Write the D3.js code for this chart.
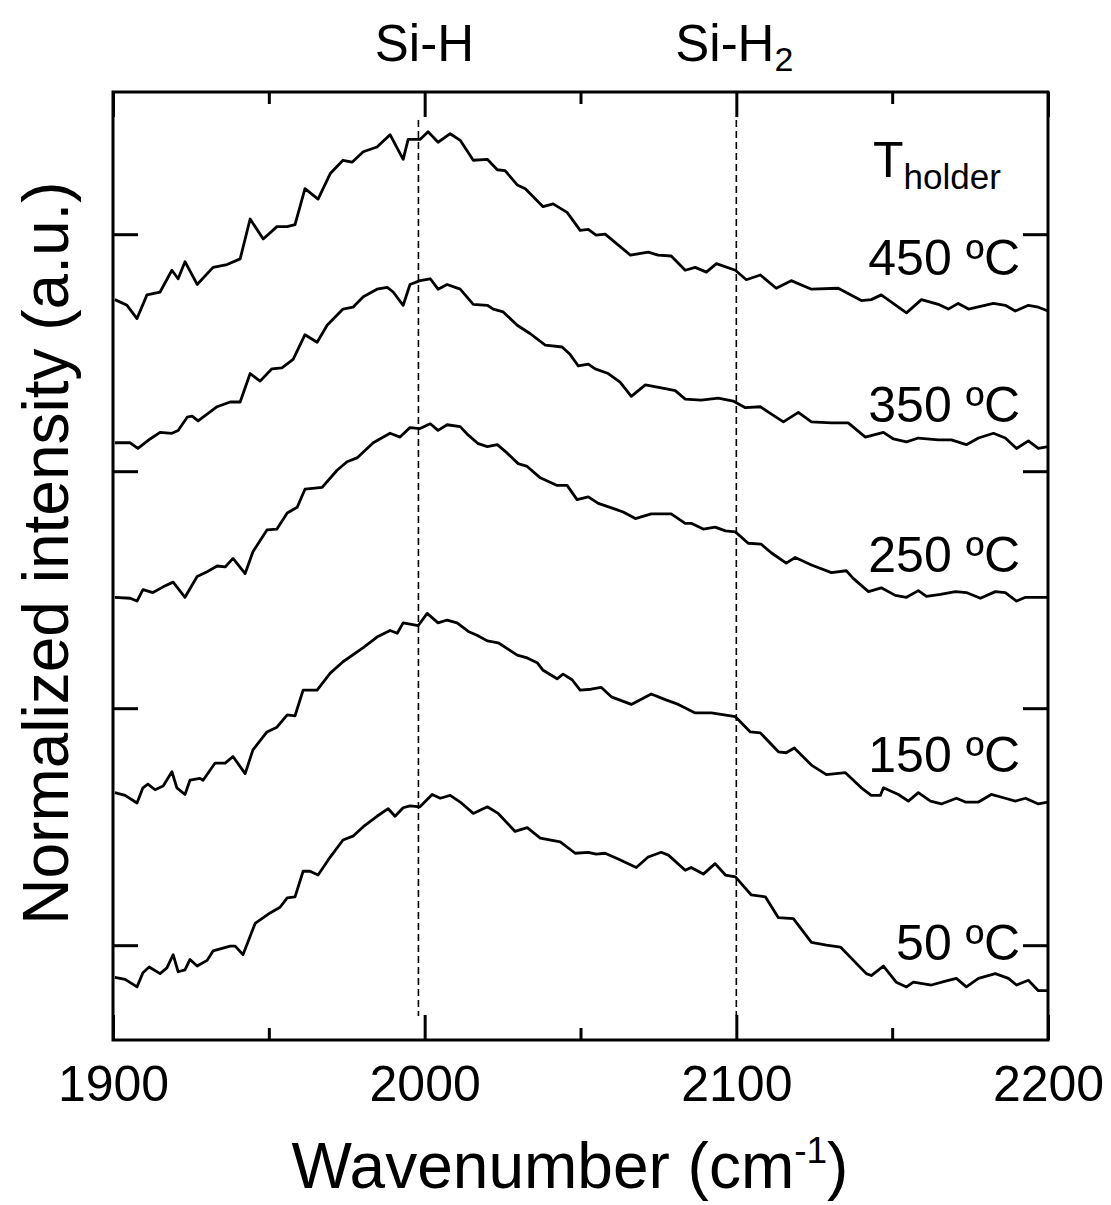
<!DOCTYPE html>
<html>
<head>
<meta charset="utf-8">
<script src="https://cdn.jsdelivr.net/npm/d3@7"></script>
<style>
  body { margin: 0; background: #fff; }
  text { font-family: "Liberation Sans", Arial, sans-serif; fill: #000; }
</style>
</head>
<body>
<div id="chart"></div>
<script>
// spectra: [wavenumber (cm-1), intensity (a.u., offset)]
var t50 = [[1900.6,6.6],[1903.9,6.4],[1907.7,5.6],[1909.6,7.1],[1911.6,7.7],[1915.1,7.0],[1917.3,7.6],[1919.3,9.0],[1920.9,7.2],[1923.1,7.4],[1924.7,8.5],[1927.0,7.8],[1930.2,8.4],[1932.1,9.4],[1937.6,9.9],[1939.2,9.9],[1941.7,9.0],[1945.6,12.3],[1950.4,13.4],[1953.6,14.0],[1955.9,15.0],[1958.4,15.1],[1961.0,17.8],[1963.2,17.8],[1965.8,17.4],[1969.7,19.3],[1973.8,21.1],[1977.0,21.5],[1980.3,22.5],[1984.7,23.6],[1988.3,24.4],[1990.5,23.6],[1993.1,24.5],[1995.3,24.7],[1998.5,24.6],[2002.4,25.9],[2005.0,25.5],[2008.2,25.8],[2011.4,25.1],[2015.6,23.9],[2020.1,24.6],[2023.6,23.9],[2029.0,22.0],[2032.9,22.4],[2037.1,21.3],[2043.5,20.9],[2048.3,19.7],[2052.5,19.8],[2055.0,19.6],[2057.9,19.7],[2062.1,19.1],[2067.9,18.2],[2071.7,19.3],[2075.9,19.8],[2078.2,19.5],[2083.6,17.9],[2085.5,18.2],[2089.4,17.5],[2093.2,18.6],[2096.5,17.4],[2099.7,17.2],[2104.8,15.3],[2109.3,15.1],[2113.5,12.9],[2118.3,12.8],[2124.1,10.3],[2128.9,10.0],[2133.4,9.8],[2141.7,7.0],[2143.3,6.8],[2147.2,7.8],[2151.3,6.1],[2154.6,5.6],[2156.8,6.1],[2162.6,5.8],[2167.1,6.2],[2170.6,6.5],[2173.8,5.6],[2177.7,6.5],[2183.1,7.0],[2187.3,6.5],[2189.9,5.8],[2193.7,6.3],[2196.9,5.2],[2200,5.2]];

var t150 = [[1900.6,26.1],[1903.9,25.8],[1907.7,25.0],[1909.6,26.6],[1911.2,27.0],[1913.5,26.4],[1916.1,26.8],[1918.9,28.3],[1920.5,26.6],[1923.1,25.9],[1924.7,27.4],[1927.9,27.6],[1928.9,27.4],[1932.7,29.2],[1936.0,29.2],[1938.5,29.9],[1942.4,28.1],[1944.9,30.6],[1949.4,32.5],[1952.6,33.0],[1955.9,34.3],[1958.4,34.2],[1961.0,36.9],[1965.5,36.9],[1969.7,38.7],[1973.8,39.9],[1980.3,41.4],[1984.7,42.5],[1988.9,43.2],[1991.2,42.9],[1993.1,44.0],[1997.9,43.7],[2000.8,45.0],[2004.3,44.0],[2007.2,44.3],[2010.4,44.0],[2014.0,43.1],[2016.8,42.7],[2020.1,42.1],[2023.6,41.9],[2029.7,40.6],[2032.9,40.3],[2036.1,39.8],[2038.0,39.0],[2042.5,38.1],[2044.4,38.6],[2047.3,38.0],[2049.9,36.9],[2053.4,37.0],[2056.6,37.2],[2059.9,36.2],[2066.3,35.4],[2072.7,36.5],[2077.2,35.9],[2081.4,35.4],[2086.8,34.5],[2092.0,34.5],[2099.7,34.1],[2104.5,32.5],[2107.7,32.4],[2113.5,30.4],[2116.0,30.3],[2118.6,30.8],[2124.1,29.0],[2128.9,28.0],[2135.0,28.2],[2140.1,26.6],[2143.3,25.8],[2146.2,25.8],[2147.2,26.6],[2152.0,25.9],[2155.2,25.2],[2158.4,26.1],[2162.3,25.2],[2165.8,24.9],[2170.6,25.5],[2173.5,25.1],[2177.7,25.1],[2181.8,25.9],[2186.3,25.5],[2189.5,25.2],[2192.8,25.5],[2196.9,24.9],[2200,25.1]];

var t250 = [[1900.6,46.7],[1905.5,46.6],[1907.7,46.3],[1909.6,47.5],[1912.8,47.2],[1916.1,47.8],[1919.3,48.3],[1923.1,46.7],[1927.0,48.9],[1930.2,49.4],[1933.4,50.0],[1936.0,49.9],[1938.5,50.8],[1942.4,49.2],[1944.9,51.5],[1949.4,53.8],[1952.6,53.9],[1955.9,55.6],[1959.1,56.2],[1961.6,58.1],[1967.1,58.3],[1971.9,60.1],[1975.1,61.0],[1978.3,61.4],[1983.5,63.0],[1988.9,64.0],[1992.1,63.6],[1995.3,64.6],[1998.5,64.5],[2001.8,65.0],[2004.3,64.3],[2007.2,64.9],[2011.4,64.7],[2014.0,63.8],[2017.2,62.9],[2020.1,62.6],[2023.3,62.8],[2026.5,61.9],[2030.0,60.8],[2032.9,60.5],[2037.1,59.3],[2042.5,58.5],[2045.7,58.5],[2048.9,57.0],[2052.5,57.3],[2055.7,56.6],[2061.1,56.0],[2063.7,55.7],[2067.6,55.0],[2072.7,55.5],[2079.1,55.5],[2083.6,54.5],[2085.5,54.5],[2089.4,53.9],[2093.2,54.1],[2096.5,53.7],[2099.7,53.6],[2103.8,52.4],[2108.0,52.3],[2111.2,51.4],[2116.0,50.3],[2118.9,50.9],[2124.1,50.1],[2130.5,49.3],[2135.3,49.5],[2137.5,48.7],[2142.4,47.3],[2146.5,47.7],[2151.0,46.9],[2154.6,46.7],[2158.4,47.4],[2161.0,46.8],[2165.5,47.0],[2170.3,47.3],[2173.8,47.2],[2178.3,46.6],[2183.1,47.3],[2186.3,47.2],[2189.9,46.3],[2192.8,46.7],[2200,46.7]];

var t350 = [[1900.6,63.0],[1905.5,63.0],[1908.0,62.4],[1911.9,63.4],[1915.1,64.1],[1918.9,64.0],[1920.9,64.3],[1923.8,65.7],[1925.4,65.8],[1927.3,65.3],[1933.4,66.8],[1937.6,67.3],[1940.8,67.3],[1944.0,70.3],[1947.2,69.5],[1951.0,70.8],[1954.2,70.9],[1957.8,71.8],[1961.6,74.4],[1965.5,73.6],[1968.7,75.4],[1973.8,77.1],[1977.0,77.3],[1980.3,78.4],[1984.7,79.2],[1988.0,79.4],[1989.9,78.9],[1993.1,77.5],[1995.3,79.7],[1998.5,80.1],[2001.8,80.3],[2004.3,79.2],[2007.2,79.7],[2011.4,79.2],[2015.6,77.6],[2020.1,77.5],[2022.0,77.1],[2025.2,76.8],[2029.7,75.4],[2033.9,74.5],[2038.7,73.3],[2044.1,73.1],[2046.7,72.3],[2049.3,71.1],[2052.5,71.3],[2054.7,70.8],[2058.9,70.3],[2062.7,69.4],[2066.3,67.9],[2070.8,69.1],[2077.2,68.7],[2080.4,68.5],[2083.6,67.6],[2088.7,67.5],[2094.2,67.7],[2099.0,67.4],[2102.9,66.7],[2107.7,66.8],[2110.9,66.1],[2115.1,65.2],[2119.9,66.2],[2124.1,65.2],[2130.5,65.1],[2135.9,65.1],[2141.4,63.6],[2147.2,64.1],[2150.4,63.4],[2154.6,63.1],[2158.4,63.5],[2164.8,63.3],[2169.0,63.3],[2173.8,62.8],[2177.7,63.5],[2182.5,64.0],[2186.3,63.5],[2189.9,62.4],[2193.7,63.2],[2196.9,62.4],[2200,62.6]];

var t450 = [[1900.6,78.1],[1904.5,77.5],[1907.7,76.1],[1910.9,78.6],[1915.1,78.9],[1918.9,81.2],[1920.9,80.3],[1923.1,82.1],[1927.0,79.7],[1932.1,81.5],[1936.6,81.8],[1940.8,82.4],[1944.0,86.6],[1948.2,84.5],[1952.6,85.8],[1955.9,85.8],[1958.4,86.0],[1961.6,89.8],[1965.8,88.7],[1969.7,91.4],[1973.8,92.8],[1976.7,92.6],[1980.3,93.7],[1984.7,94.2],[1988.9,95.5],[1993.1,92.9],[1994.7,95.0],[1998.5,95.0],[2001.1,95.8],[2004.3,94.7],[2008.2,95.6],[2011.4,94.9],[2015.6,92.8],[2020.1,92.9],[2023.3,91.8],[2025.8,91.7],[2029.7,90.2],[2032.3,89.8],[2038.0,87.9],[2041.2,88.2],[2045.7,87.3],[2049.9,85.4],[2052.5,85.5],[2055.0,84.9],[2057.9,85.0],[2066.0,82.8],[2071.7,83.1],[2074.9,82.8],[2079.1,82.7],[2083.6,81.2],[2086.8,81.5],[2090.4,81.0],[2093.6,81.9],[2099.7,81.2],[2103.2,80.2],[2107.7,80.7],[2112.8,79.3],[2117.6,80.1],[2124.1,79.2],[2132.7,79.3],[2140.1,78.0],[2143.3,78.1],[2146.5,78.6],[2154.6,76.7],[2159.4,78.1],[2164.8,77.6],[2168.0,77.1],[2171.2,77.7],[2174.5,77.1],[2182.5,77.7],[2186.3,77.5],[2189.5,76.9],[2193.7,77.5],[2196.9,77.3],[2200,76.9]];

var series = [t50, t150, t250, t350, t450];
var temps = ["50", "150", "250", "350", "450"];
var labelAt = [8.4, 28.3, 49.4, 65.2, 80.7];   // label baselines, intensity units

var xMajor = [1900, 2000, 2100, 2200];
var xMinor = [1950, 2050, 2150];
var yTicks = [10, 35, 60, 85];
var peaks = [1998, 2100];

function draw() {
    var W = 1111, H = 1205,
        pl = 113, pr = 1048, pt = 92, pb = 1040;

    var x = d3.scaleLinear().domain([1900, 2200]).range([pl, pr]);
    var y = d3.scaleLinear().domain([0, 100]).range([pb, pt]);

    var svg = d3.select("#chart").append("svg")
        .attr("width", W)
        .attr("height", H);

    svg.append("defs").append("clipPath").attr("id", "plot")
      .append("rect")
        .attr("x", pl).attr("y", pt)
        .attr("width", pr - pl).attr("height", pb - pt);

    // dashed markers for the Si-H and Si-H2 modes
    svg.selectAll(".peak")
        .data(peaks)
        .enter().append("line")
        .attr("class", "peak")
        .attr("x1", function (d) { return x(d); })
        .attr("x2", function (d) { return x(d); })
        .attr("y1", pt + 28)
        .attr("y2", pb - 24)
        .style("stroke", "#000")
        .style("stroke-width", 1.6)
        .style("stroke-dasharray", "7,4");

    var line = d3.line()
        .x(function (d) { return x(d[0]); })
        .y(function (d) { return y(d[1]); });

    svg.append("g").attr("clip-path", "url(#plot)")
      .selectAll("path")
        .data(series)
        .enter().append("path")
        .attr("d", line)
        .style("fill", "none")
        .style("stroke", "#000")
        .style("stroke-width", 2.8)
        .style("stroke-linejoin", "round");

    // axes, ticks point inwards
    var bottomAxis = svg.append("g")
        .attr("transform", "translate(0," + pb + ")")
        .call(d3.axisBottom(x).tickValues(xMajor).tickSize(-25).tickPadding(25)
            .tickFormat(d3.format("d")));
    svg.append("g")
        .attr("transform", "translate(0," + pt + ")")
        .call(d3.axisTop(x).tickValues(xMajor).tickSize(-25).tickFormat(""));
    svg.append("g")
        .attr("transform", "translate(" + pl + ",0)")
        .call(d3.axisLeft(y).tickValues(yTicks).tickSize(-25).tickFormat(""));
    svg.append("g")
        .attr("transform", "translate(" + pr + ",0)")
        .call(d3.axisRight(y).tickValues(yTicks).tickSize(-25).tickFormat(""));
    svg.append("g")
        .attr("transform", "translate(0," + pb + ")")
        .call(d3.axisBottom(x).tickValues(xMinor).tickSize(-12).tickFormat(""));
    svg.append("g")
        .attr("transform", "translate(0," + pt + ")")
        .call(d3.axisTop(x).tickValues(xMinor).tickSize(-12).tickFormat(""));

    svg.selectAll(".domain").remove();
    svg.selectAll(".tick line").style("stroke", "#000").style("stroke-width", 3);
    bottomAxis.selectAll("text")
        .style("font-size", "50px")
        .style("font-family", "'Liberation Sans', Arial, sans-serif")
        .style("fill", "#000");

    svg.append("rect")
        .attr("x", pl).attr("y", pt)
        .attr("width", pr - pl).attr("height", pb - pt)
        .style("fill", "none")
        .style("stroke", "#000")
        .style("stroke-width", 3);

    // curve labels
    svg.selectAll(".temp")
        .data(temps)
        .enter().append("text")
        .attr("class", "temp")
        .attr("x", 1020)
        .attr("y", function (d, i) { return y(labelAt[i]); })
        .attr("text-anchor", "end")
        .style("font-size", "50px")
        .text(function (d) { return d + " \u00baC"; });

    var th = svg.append("text")
        .attr("x", 873)
        .attr("y", 177)
        .style("font-size", "50px");
    th.append("tspan").text("T");
    th.append("tspan").attr("dy", 12).style("font-size", "35px").text("holder");

    // peak names
    svg.append("text")
        .attr("x", x(peaks[0]) + 6).attr("y", 61)
        .attr("text-anchor", "middle")
        .style("font-size", "51px")
        .text("Si-H");
    var sih2 = svg.append("text")
        .attr("x", x(peaks[1]) - 2)
        .attr("y", 61)
        .attr("text-anchor", "middle")
        .style("font-size", "51px");
    sih2.append("tspan").text("Si-H");
    sih2.append("tspan").attr("dy", 10).style("font-size", "34px").text("2");

    // axis titles
    var xt = svg.append("text")
        .attr("x", 570).attr("y", 1188)
        .attr("text-anchor", "middle")
        .style("font-size", "64px");
    xt.append("tspan").text("Wavenumber (cm");
    xt.append("tspan").attr("dy", -25).style("font-size", "37px").text("-1");
    xt.append("tspan").attr("dy", 25).text(")");

    svg.append("text")
        .attr("transform", "translate(68,553) rotate(-90)")
        .attr("text-anchor", "middle")
        .style("font-size", "64px")
        .text("Normalized intensity (a.u.)");
}

draw();
</script>
</body>
</html>
